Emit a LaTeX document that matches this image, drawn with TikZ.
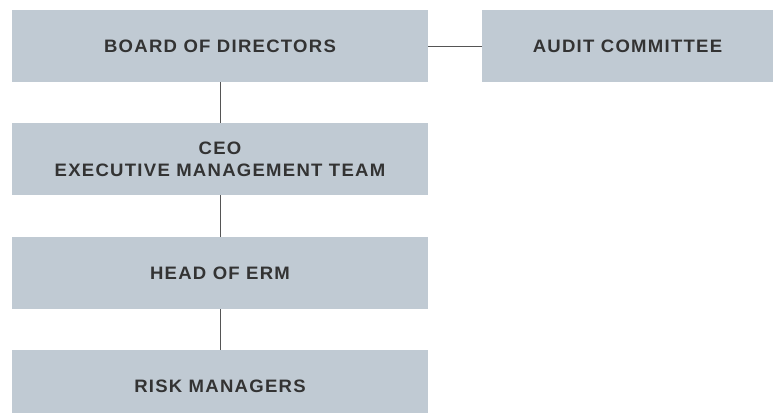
\documentclass[tikz,border=0pt]{standalone}
\usepackage{fontspec}
\setmainfont{Liberation Sans}[LetterSpace=7,FakeStretch=1.03]
\definecolor{boxfill}{HTML}{C0CAD3}
\definecolor{boxtext}{HTML}{333333}
\definecolor{linecol}{HTML}{555555}
\begin{document}
\begin{tikzpicture}[x=1pt,y=-1pt,
  orgbox/.style={fill=boxfill,draw=none,text=boxtext,font=\fontsize{18}{22}\selectfont\bfseries,align=center,inner sep=0pt},
  link/.style={draw=linecol,line width=0.9pt}]
\useasboundingbox (0,0) rectangle (773,412);
\fill[white] (0,0) rectangle (773,412);
\node[orgbox,minimum width=416pt,minimum height=72pt] (board) at (220,46) {BOARD OF DIRECTORS};
\node[orgbox,minimum width=291pt,minimum height=72pt] (audit) at (627.5,46) {AUDIT COMMITTEE};
\node[orgbox,minimum width=416pt,minimum height=72pt] (ceo) at (220,159) {CEO\\EXECUTIVE MANAGEMENT TEAM};
\node[orgbox,minimum width=416pt,minimum height=72pt] (erm) at (220,273) {HEAD OF ERM};
\node[orgbox,minimum width=416pt,minimum height=72pt] (risk) at (220,386) {RISK MANAGERS};
\draw[link] (board) -- (audit);
\draw[link] (board) -- (ceo);
\draw[link] (ceo) -- (erm);
\draw[link] (erm) -- (risk);
\end{tikzpicture}
\end{document}
